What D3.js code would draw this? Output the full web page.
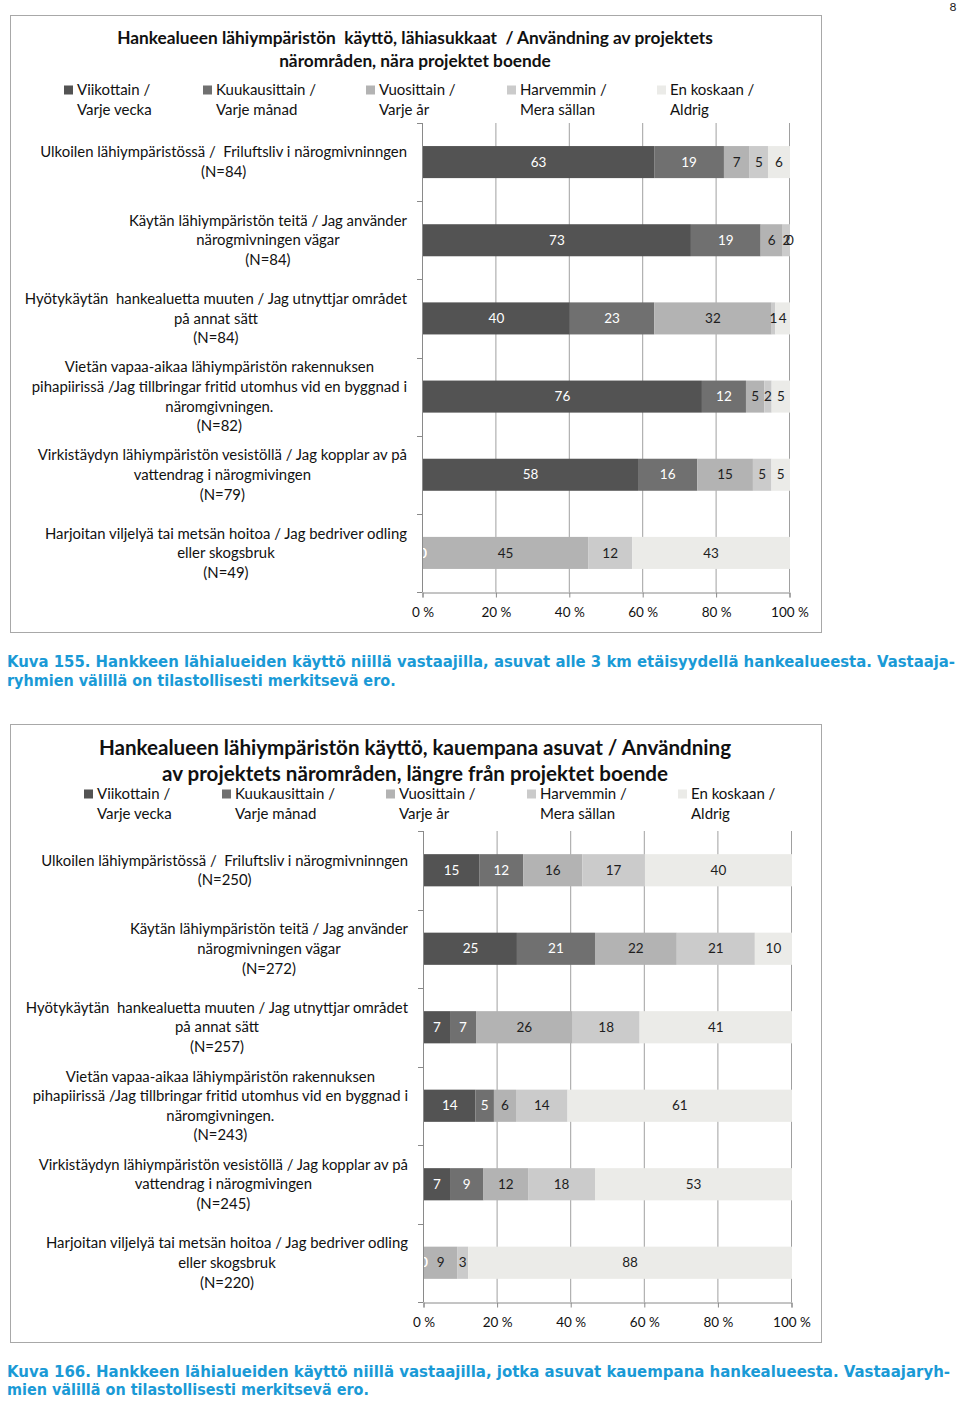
<!DOCTYPE html>
<html><head><meta charset="utf-8">
<script src="https://cdn.jsdelivr.net/npm/d3@7"></script>
<style>
body{margin:0;background:#fff;}
</style></head><body>
<svg id="c" width="960" height="1401"></svg>
<script>
// ---------- data ----------
const seriesNames = [["Viikottain /","Varje vecka"],["Kuukausittain /","Varje månad"],["Vuosittain /","Varje år"],["Harvemmin /","Mera sällan"],["En koskaan /","Aldrig"]];
const seriesKeys = ["weekly","monthly","yearly","rarely","never"];
const seriesColors = ["#535353","#707070","#b3b3b3","#cbcbcb","#ebebe8"];
const labelColors = ["#ffffff","#ffffff","#1e1e1e","#1e1e1e","#1e1e1e"];
const tickValues = [0,0.2,0.4,0.6,0.8,1];
const tickLabels = ["0 %","20 %","40 %","60 %","80 %","100 %"];

const title1 = ["Hankealueen lähiympäristön\u00a0 käyttö, lähiasukkaat\u00a0 / Användning av projektets","närområden, nära projektet boende"];
const categories1 = [
  ["Ulkoilen lähiympäristössä /\u00a0 Friluftsliv i närogmivninngen","(N=84)"],
  ["Käytän lähiympäristön teitä / Jag använder","närogmivningen vägar","(N=84)"],
  ["Hyötykäytän\u00a0 hankealuetta muuten / Jag utnyttjar området","på annat sätt","(N=84)"],
  ["Vietän vapaa-aikaa lähiympäristön rakennuksen","pihapiirissä /Jag tillbringar fritid utomhus vid en byggnad i","näromgivningen.","(N=82)"],
  ["Virkistäydyn lähiympäristön vesistöllä / Jag kopplar av på","vattendrag i närogmivingen","(N=79)"],
  ["Harjoitan viljelyä tai metsän hoitoa / Jag bedriver odling","eller skogsbruk","(N=49)"]
];
const weekly1  = [63,73,40,76,58,0];
const monthly1 = [19,19,23,12,16,0];
const yearly1  = [7,6,32,5,15,45];
const rarely1  = [5,2,1,2,5,12];
const never1   = [6,0,4,5,5,43];
const caption1 = ["Kuva 155. Hankkeen lähialueiden käyttö niillä vastaajilla, asuvat alle 3 km etäisyydellä hankealueesta. Vastaaja-","ryhmien välillä on tilastollisesti merkitsevä ero."];

const title2 = ["Hankealueen lähiympäristön käyttö, kauempana asuvat / Användning","av projektets närområden, längre från projektet boende"];
const categories2 = [
  ["Ulkoilen lähiympäristössä /\u00a0 Friluftsliv i närogmivninngen","(N=250)"],
  ["Käytän lähiympäristön teitä / Jag använder","närogmivningen vägar","(N=272)"],
  ["Hyötykäytän\u00a0 hankealuetta muuten / Jag utnyttjar området","på annat sätt","(N=257)"],
  ["Vietän vapaa-aikaa lähiympäristön rakennuksen","pihapiirissä /Jag tillbringar fritid utomhus vid en byggnad i","näromgivningen.","(N=243)"],
  ["Virkistäydyn lähiympäristön vesistöllä / Jag kopplar av på","vattendrag i närogmivingen","(N=245)"],
  ["Harjoitan viljelyä tai metsän hoitoa / Jag bedriver odling","eller skogsbruk","(N=220)"]
];
const weekly2  = [15,25,7,14,7,0];
const monthly2 = [12,21,7,5,9,0];
const yearly2  = [16,22,26,6,12,9];
const rarely2  = [17,21,18,14,18,3];
const never2   = [40,10,41,61,53,88];
const caption2 = ["Kuva 166. Hankkeen lähialueiden käyttö niillä vastaajilla, jotka asuvat kauempana hankealueesta. Vastaajaryh-","mien välillä on tilastollisesti merkitsevä ero."];

// ---------- drawing ----------
const FONT = "Lato, 'Open Sans', sans-serif";
const CAPFONT = "'DejaVu Sans Condensed','DejaVu Sans',sans-serif";
const svg = d3.select("#c");
svg.append("text").attr("x",953).attr("y",7).attr("dy","0.35em").attr("font-family",FONT).attr("font-size",12).attr("fill","#222").attr("text-anchor","middle").text("8");

function drawChart(o, idx){
  const g = svg.append("g").attr("font-family",FONT);
  g.append("rect").attr("x",o.box[0]+0.5).attr("y",o.box[1]+0.5)
    .attr("width",o.box[2]-o.box[0]).attr("height",o.box[3]-o.box[1])
    .attr("fill","#fff").attr("stroke","#a8a8a8").attr("stroke-width",1);

  // title
  o.title.forEach((t,i)=>{
    g.append("text").attr("x",o.titleX).attr("y",o.titleY[i]).attr("dy","0.35em")
      .attr("text-anchor","middle").attr("font-weight","bold").attr("font-size",o.titleSize)
      .attr("fill","#111").text(t);
  });

  // legend
  seriesNames.forEach((nm,i)=>{
    g.append("rect").attr("x",o.legX[i]).attr("y",o.legY[0]-4.5).attr("width",9).attr("height",9).attr("fill",seriesColors[i]);
    nm.forEach((ln,j)=>{
      g.append("text").attr("x",o.legX[i]+13).attr("y",o.legY[j]).attr("dy","0.35em")
        .attr("font-size",15).attr("fill","#111").text(ln);
    });
  });

  const x = d3.scaleLinear().domain([0,1]).range([o.plot.left,o.plot.right]);
  const y = d3.scaleBand().domain(d3.range(o.categories.length)).range([o.plot.top,o.plot.bottom])
    .paddingInner(0.59).paddingOuter(0.295);

  // gridlines
  g.append("g").selectAll("line").data(tickValues.slice(1)).join("line")
    .attr("x1",d=>x(d)+0.5).attr("x2",d=>x(d)+0.5).attr("y1",o.plot.top).attr("y2",o.plot.bottom)
    .attr("stroke","#a0a0a0").attr("stroke-width",1);

  // axes
  const xAxis = d3.axisBottom(x).tickValues(tickValues).tickFormat((d,i)=>tickLabels[i]).tickSize(5).tickPadding(10);
  const ax = g.append("g").attr("transform",`translate(0.5,${o.plot.bottom+0.5})`).call(xAxis);
  ax.attr("font-family",FONT);
  ax.select(".domain").attr("stroke","#8a8a8a");
  ax.selectAll(".tick line").attr("stroke","#8a8a8a");
  ax.selectAll(".tick text").attr("font-size",13.5).attr("fill","#111");

  const step = y.step();
  const yb = d3.range(o.categories.length+1).map(i=>o.plot.top+i*step);
  g.append("line").attr("x1",x(0)+0.5).attr("x2",x(0)+0.5).attr("y1",o.plot.top).attr("y2",o.plot.bottom)
    .attr("stroke","#8a8a8a");
  g.append("g").selectAll("line").data(yb).join("line")
    .attr("x1",x(0)-5).attr("x2",x(0)+0.5).attr("y1",d=>Math.round(d)+0.5).attr("y2",d=>Math.round(d)+0.5)
    .attr("stroke","#8a8a8a");

  // stacked bars
  const rows = o.categories.map((c,i)=>{
    const r = {i};
    seriesKeys.forEach((k,j)=>r[k]=o.values[j][i]);
    return r;
  });
  const stacked = d3.stack().keys(seriesKeys).offset(d3.stackOffsetExpand)(rows);
  const clipId = "clip"+idx;
  g.append("clipPath").attr("id",clipId).append("rect")
    .attr("x",x(0)+1).attr("y",o.plot.top).attr("width",o.box[2]-x(0)-2).attr("height",o.plot.bottom-o.plot.top);

  stacked.forEach((s,si)=>{
    g.append("g").attr("fill",seriesColors[si]).selectAll("rect").data(s).join("rect")
      .attr("x",d=>x(d[0])+1).attr("width",d=>Math.max(0,x(d[1])-x(d[0])))
      .attr("y",(d,i)=>y(i)).attr("height",y.bandwidth());
  });
  stacked.forEach((s,si)=>{
    g.append("g").attr("clip-path",`url(#${clipId})`).selectAll("text").data(s).join("text")
      .attr("x",d=>(x(d[0])+x(d[1]))/2+1).attr("y",(d,i)=>y(i)+y.bandwidth()/2).attr("dy","0.35em")
      .attr("text-anchor","middle").attr("font-size",13.5).attr("fill",labelColors[si])
      .text((d,i)=>o.values[si][i]);
  });

  // category labels
  o.categories.forEach((lines,i)=>{
    const cy = y(i)+y.bandwidth()/2;
    const lh = 19.6;
    const ts = lines.map((ln,j)=>g.append("text").attr("y",cy+(j-(lines.length-1)/2)*lh).attr("dy","0.35em")
      .attr("text-anchor","middle").attr("font-size",14.9).attr("fill","#111").text(ln));
    const w = d3.max(ts,t=>t.node().getComputedTextLength());
    ts.forEach(t=>t.attr("x",o.labelRight-w/2));
  });

  // caption
  o.caption.forEach((c,i)=>{
    const t = svg.append("text").attr("x",7).attr("y",o.capY[i]).attr("dy","0.35em")
      .attr("font-family",CAPFONT)
      .attr("font-weight","bold").attr("font-size",16).attr("fill","#1a9ad6").text(c);
    if(i===0){ t.attr("textLength",o.capW).attr("lengthAdjust","spacingAndGlyphs"); }
  });
}

drawChart({
  box:[10,15,821,632], title:title1, titleX:415, titleY:[38,61], titleSize:17.3,
  legX:[64,203,366,507,657], legY:[90,110],
  plot:{left:422,right:789,top:123,bottom:592}, labelRight:407,
  categories:categories1, values:[weekly1,monthly1,yearly1,rarely1,never1],
  caption:caption1, capY:[661,680], capW:948
},1);

drawChart({
  box:[10,724,821,1342], title:title2, titleX:415, titleY:[748,774], titleSize:20.6,
  legX:[84,222,386,527,678], legY:[794,814],
  plot:{left:423,right:791,top:831,bottom:1302}, labelRight:408,
  categories:categories2, values:[weekly2,monthly2,yearly2,rarely2,never2],
  caption:caption2, capY:[1371,1389], capW:943
},2);
</script>
</body></html>
